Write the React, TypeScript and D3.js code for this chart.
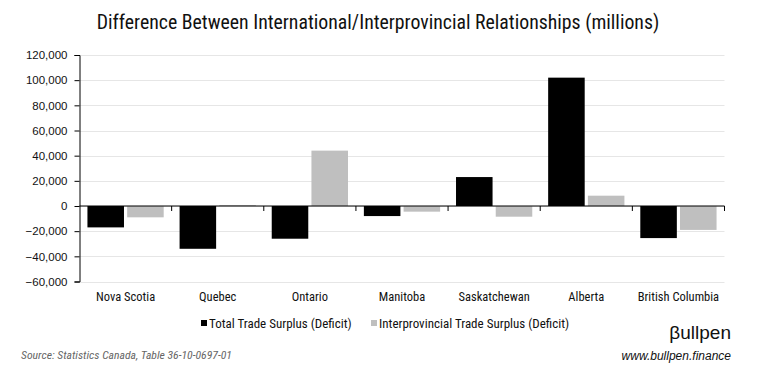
import React, { useEffect, useRef } from 'react';
import * as d3 from 'd3';

const provinces = ['Nova Scotia', 'Quebec', 'Ontario', 'Manitoba', 'Saskatchewan', 'Alberta', 'British Columbia'];
const totalTrade = [-17000, -34000, -26000, -8000, 23000, 102000, -25500];
const interprovincialTrade = [-9000, 700, 44000, -4500, -8500, 8200, -19000];
const seriesNames = ['Total Trade Surplus (Deficit)', 'Interprovincial Trade Surplus (Deficit)'];
const seriesColors = ['#000000', '#bfbfbf'];
const yTicks = [-60000, -40000, -20000, 0, 20000, 40000, 60000, 80000, 100000, 120000];

const FONT = "'Liberation Sans Narrow', 'Arial Narrow', 'Roboto Condensed', 'Liberation Sans', sans-serif";
const WIDE = "'Liberation Sans', Arial, sans-serif";

const App = () => {
  const svgRef = useRef<SVGSVGElement>(null);

  useEffect(() => {
    if (!svgRef.current) return;
    const width = 763;
    const height = 389;
    const svg = d3.select(svgRef.current);
    svg.selectAll('*').remove();

    const left = 79.5;
    const right = 724.5;

    const x = d3.scaleBand().domain(provinces).range([left, right]).paddingInner(0).paddingOuter(0);
    const y = d3.scaleLinear().domain([-60000, 120000]).range([281.5, 55]);
    const inner = d3.scaleBand().domain(['0', '1']).range([0, x.bandwidth()]).paddingInner(0.08).paddingOuter(0.2);

    svg.append('rect').attr('width', width).attr('height', height).attr('fill', '#fff');

    // title
    svg.append('text')
      .attr('x', 378).attr('y', 29)
      .attr('text-anchor', 'middle')
      .attr('font-family', FONT)
      .attr('font-size', 19.8)
      .attr('fill', '#111')
      .text('Difference Between International/Interprovincial Relationships (millions)');

    // gridlines
    svg.append('g').selectAll('line')
      .data(yTicks)
      .enter().append('line')
      .attr('x1', left).attr('x2', right)
      .attr('y1', d => Math.round(y(d)) + 0.5).attr('y2', d => Math.round(y(d)) + 0.5)
      .attr('stroke', '#e6e6e6').attr('stroke-width', 1);

    // bars
    const series = [totalTrade, interprovincialTrade];
    series.forEach((vals, si) => {
      svg.append('g').selectAll('rect')
        .data(vals)
        .enter().append('rect')
        .attr('x', (_, i) => (x(provinces[i]) as number) + (inner(String(si)) as number))
        .attr('width', inner.bandwidth())
        .attr('y', d => y(Math.max(0, d)))
        .attr('height', d => Math.abs(y(d) - y(0)))
        .attr('fill', seriesColors[si]);
    });

    // y axis
    const yAxis = d3.axisLeft(y).tickValues(yTicks).tickSize(5).tickFormat(d => d3.format(',')(Number(d)));
    const ya = svg.append('g').attr('transform', `translate(${left},0)`).call(yAxis);
    ya.select('.domain').attr('stroke', '#000');
    ya.selectAll('.tick line').attr('stroke', '#000');
    ya.selectAll('.tick text')
      .attr('font-family', WIDE).attr('font-size', 11.5).attr('fill', '#111').attr('x', -12);

    // zero line with category ticks
    svg.append('line')
      .attr('x1', left).attr('x2', right)
      .attr('y1', y(0)).attr('y2', y(0))
      .attr('stroke', '#000').attr('stroke-width', 1.2);
    svg.append('g').selectAll('line')
      .data(provinces.map((_, i) => i + 1))
      .enter().append('line')
      .attr('x1', i => left + i * x.bandwidth()).attr('x2', i => left + i * x.bandwidth())
      .attr('y1', y(0)).attr('y2', y(0) + 5)
      .attr('stroke', '#000');

    // category labels
    svg.append('g').selectAll('text')
      .data(provinces)
      .enter().append('text')
      .attr('x', d => (x(d) as number) + x.bandwidth() / 2)
      .attr('y', 301)
      .attr('text-anchor', 'middle')
      .attr('font-family', FONT).attr('font-size', 12.5).attr('fill', '#111')
      .text(d => d);

    // legend
    const legendX = [201, 371];
    seriesNames.forEach((name, i) => {
      svg.append('rect')
        .attr('x', legendX[i]).attr('y', 320).attr('width', 6).attr('height', 6)
        .attr('fill', seriesColors[i]);
      svg.append('text')
        .attr('x', legendX[i] + 8).attr('y', 328)
        .attr('font-family', FONT).attr('font-size', 13).attr('fill', '#111')
        .text(name);
    });

    // logo
    svg.append('text')
      .attr('x', 731).attr('y', 339)
      .attr('text-anchor', 'end')
      .attr('font-family', WIDE).attr('font-size', 19).attr('fill', '#111')
      .text('βullpen');

    // footer
    svg.append('text')
      .attr('x', 21).attr('y', 359)
      .attr('font-family', FONT).attr('font-style', 'italic').attr('font-size', 11.7).attr('fill', '#666')
      .text('Source: Statistics Canada, Table 36-10-0697-01');
    svg.append('text')
      .attr('x', 731).attr('y', 360)
      .attr('text-anchor', 'end')
      .attr('font-family', WIDE).attr('font-style', 'italic').attr('font-size', 12).attr('fill', '#111')
      .text('www.bullpen.finance');
  }, []);

  return (
    <svg
      ref={svgRef}
      width={763}
      height={389}
      viewBox="0 0 763 389"
      style={{ position: 'absolute', left: 0, top: 0 }}
    />
  );
};

export default App;
